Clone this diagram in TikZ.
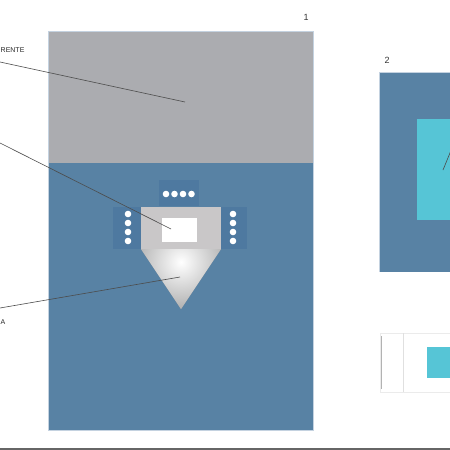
\documentclass[tikz,border=0pt]{standalone}
\usepackage{fontspec}
\setmainfont{Liberation Sans}
\begin{document}
\begin{tikzpicture}[x=1pt,y=-1pt,
  lbl/.style={font=\fontsize{9}{9}\selectfont, text=black!80, inner sep=0pt},
  small/.style={font=\fontsize{7}{7}\selectfont, text=black!85, inner sep=0pt},
  leader/.style={draw=black!70, line width=0.6pt},
  portbox/.style={fill=boxblue, draw=none}]
\definecolor{bgblue}{HTML}{5882A4}
\definecolor{boxblue}{HTML}{4E79A0}
\definecolor{topgray}{HTML}{ABACB0}
\definecolor{bodygray}{HTML}{C9C7C8}
\definecolor{cyanc}{HTML}{56C5D6}
\definecolor{edge}{HTML}{C4D2E0}
\useasboundingbox (0,0) rectangle (450,450);
\clip (0,0) rectangle (450,450);
% panel 1
\fill[bgblue] (48,31) rectangle (313,430);
\fill[topgray] (48,31) rectangle (313,163);
\draw[edge, line width=0.8pt] (48,31) rectangle (313,430);
\node[lbl] (n1) at (306,17) {1};
% device
\node[portbox, minimum width=40pt, minimum height=26pt, inner sep=0pt] (ptop) at (179,193) {};
\node[portbox, minimum width=28pt, minimum height=42pt, inner sep=0pt] (pleft) at (127,228) {};
\node[portbox, minimum width=26pt, minimum height=42pt, inner sep=0pt] (pright) at (234,228) {};
\node[fill=bodygray, minimum width=80pt, minimum height=42pt, inner sep=0pt] (body) at (181,228) {};
\node[fill=white, minimum width=35pt, minimum height=24pt, inner sep=0pt] (win) at (179.5,230) {};
\fill[black!40] (141,249) -- (221,249) -- (181,309) -- cycle;
\begin{scope}
  \clip (141,249) -- (221,249) -- (181,309) -- cycle;
  \shade[inner color=white, outer color=black!38] (181,262) circle (58);
\end{scope}
\foreach \i in {0,1,2,3} {
  \fill[white] (166+8.5*\i,194) circle (3.3);
  \fill[white] (128,214+9*\i) circle (3.3);
  \fill[white] (233,214+9*\i) circle (3.3);
}
% leaders
\coordinate (l1a) at (0,62);
\coordinate (l1b) at (185,102);
\coordinate (l2a) at (0,143);
\coordinate (l2b) at (171,229);
\coordinate (l3a) at (0,308);
\coordinate (l3b) at (180,277);
\draw[leader] (l1a) -- (l1b);
\draw[leader] (l2a) -- (l2b);
\draw[leader] (l3a) -- (l3b);
\node[small, anchor=west] (t1) at (0.5,50) {RENTE};
\node[small, anchor=west] (t3) at (0.5,322) {A};
% panel 2
\fill[bgblue] (379,72) rectangle (460,272);
\draw[edge, line width=0.8pt] (379,272) -- (379,72) -- (460,72);
\fill[cyanc] (417,119) rectangle (460,220);
\node[lbl] (n2) at (387,60) {2};
\coordinate (l4a) at (443,170);
\coordinate (l4b) at (452,148);
\draw[leader] (l4a) -- (l4b);
% panel 3
\fill[white] (380,333) rectangle (460,392);
\draw[black!8, line width=0.8pt] (380,333) rectangle (460,392);
\draw[black!12, line width=0.8pt] (403,333) -- (403,392);
\draw[black!30, line width=1.2pt] (381.5,336) -- (381.5,389);
\fill[cyanc] (427,347) rectangle (460,378);
% bottom rule
\draw[black!60, line width=2pt] (0,449) -- (450,449);
\end{tikzpicture}
\end{document}
